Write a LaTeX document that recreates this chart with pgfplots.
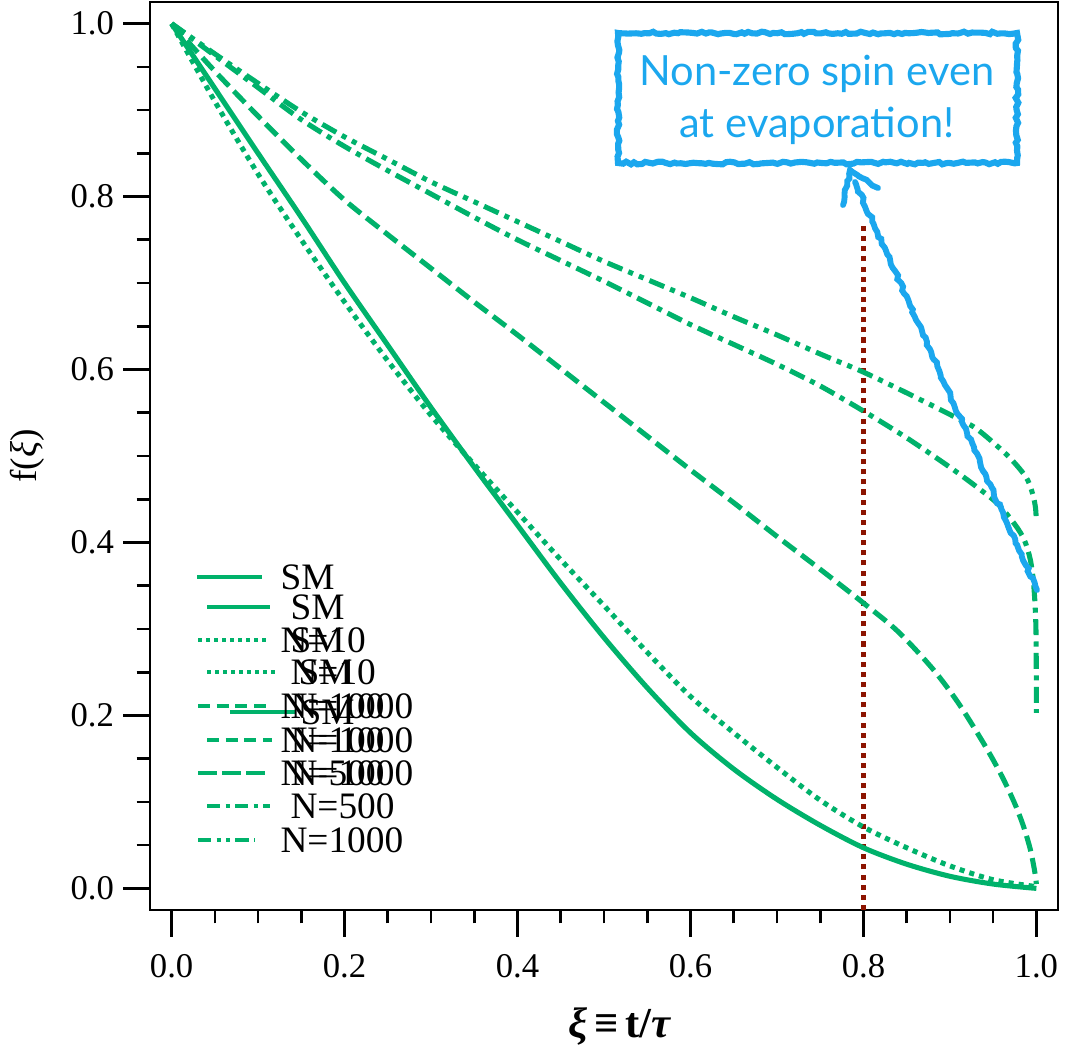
\documentclass[border=0pt]{standalone}
\usepackage{fontspec}
\setmainfont{Liberation Serif}
\newfontfamily\tickfont{Liberation Serif}
\newfontfamily\annfont{Lato}
\usepackage{pgfplots}
\usepackage{pgfplotstable}
\pgfplotsset{compat=1.18}
\usetikzlibrary{decorations.pathmorphing}
\definecolor{cgreen}{RGB}{0,178,107}
\definecolor{cred}{RGB}{140,20,0}
\definecolor{cblue}{RGB}{27,167,238}

\pgfplotstableread{
x y
0 1
0.05 0.925
0.1 0.85
0.15 0.776
0.2 0.700
0.25 0.628
0.3 0.556
0.35 0.487
0.4 0.420
0.45 0.353
0.5 0.290
0.55 0.232
0.6 0.180
0.65 0.138
0.7 0.103
0.75 0.073
0.8 0.047
0.85 0.028
0.9 0.014
0.95 0.005
1.0 0.0
}\tabSM

\pgfplotstableread{
x y
0 1
0.05 0.91
0.1 0.826
0.15 0.750
0.2 0.678
0.25 0.610
0.3 0.547
0.35 0.490
0.4 0.435
0.45 0.380
0.5 0.327
0.55 0.273
0.6 0.222
0.65 0.180
0.7 0.140
0.75 0.102
0.8 0.071
0.85 0.047
0.9 0.026
0.95 0.010
1.0 0.002
}\tabTen

\pgfplotstableread{
x y
0 1
0.05 0.945
0.1 0.893
0.15 0.843
0.2 0.796
0.25 0.756
0.3 0.717
0.35 0.678
0.4 0.640
0.45 0.601
0.5 0.562
0.55 0.523
0.6 0.484
0.65 0.446
0.7 0.407
0.75 0.369
0.8 0.330
0.84 0.297
0.88 0.254
0.91 0.214
0.94 0.166
0.96 0.130
0.975 0.098
0.985 0.072
0.993 0.045
0.998 0.020
1.0 0.005
}\tabHundred

\pgfplotstableread{
x y
0 1
0.05 0.963
0.1 0.926
0.15 0.889
0.2 0.858
0.25 0.830
0.3 0.803
0.35 0.776
0.4 0.750
0.45 0.726
0.5 0.702
0.55 0.677
0.6 0.652
0.65 0.629
0.7 0.606
0.75 0.581
0.8 0.552
0.85 0.521
0.9 0.487
0.93 0.465
0.955 0.445
0.975 0.421
0.986 0.403
0.993 0.380
0.997 0.350
0.9995 0.300
1.0 0.203
}\tabFiveHundred

\pgfplotstableread{
x y
0 1
0.05 0.965
0.1 0.931
0.15 0.898
0.2 0.869
0.25 0.843
0.3 0.817
0.35 0.794
0.4 0.771
0.45 0.748
0.5 0.725
0.55 0.704
0.6 0.683
0.65 0.661
0.7 0.640
0.75 0.618
0.8 0.597
0.85 0.573
0.9 0.548
0.93 0.532
0.963 0.504
0.98 0.486
0.99 0.472
0.996 0.455
0.999 0.440
1.0 0.424
}\tabThousand

\begin{document}
\begin{tikzpicture}
\useasboundingbox (0,0) rectangle (400.125pt,395.625pt);
\begin{axis}[
  at={(56.25pt,54.375pt)}, anchor=south west,
  scale only axis, width=340.5pt, height=340.5pt,
  xmin=-0.025, xmax=1.025, ymin=-0.025, ymax=1.025,
  axis line style={line width=1pt},
  tick align=outside, xtick pos=bottom, ytick pos=left,
  xtick={0,0.2,0.4,0.6,0.8,1.0}, ytick={0,0.2,0.4,0.6,0.8,1.0},
  xticklabels={0.0,0.2,0.4,0.6,0.8,1.0},
  yticklabels={0.0,0.2,0.4,0.6,0.8,1.0},
  minor tick num=3,
  major tick length=10pt, minor tick length=5pt,
  every tick/.style={black, line width=1pt},
  ticklabel style={font=\tickfont\fontsize{13}{13}\selectfont},
  xticklabel style={yshift=-3pt},
  xlabel={\textit{ξ}\,\textbf{≡}\,t/\textit{τ}},
  ylabel={f(\textit{ξ})},
  xlabel style={font=\fontsize{16}{16}\selectfont\bfseries, at={(axis description cs:0.5176,-0.128)}, anchor=center},
  ylabel style={font=\fontsize{14}{14}\selectfont, at={(axis description cs:-0.1355,0.5)}, anchor=center},
  line cap=butt,
]
\addplot[cred, line width=1.9pt, dash pattern=on 1.9pt off 1.9pt] coordinates {(0.8,-0.025) (0.8,0.769)};
\addplot[cgreen, line width=1.9pt, smooth] table {\tabSM};
\addplot[cgreen, line width=1.9pt, smooth, dash pattern=on 1.9pt off 1.9pt] table {\tabTen};
\addplot[cgreen, line width=1.9pt, smooth, dash pattern=on 6pt off 2.6pt] table {\tabHundred};
\addplot[cgreen, line width=1.9pt, smooth, dash pattern=on 6pt off 2.4pt on 1.9pt off 2.4pt] table {\tabFiveHundred};
\addplot[cgreen, line width=1.9pt, smooth, dash pattern=on 6pt off 2.4pt on 1.9pt off 2.4pt on 1.9pt off 2.4pt] table {\tabThousand};
\end{axis}

\begin{scope}[x=0.375pt, y=-0.375pt, yshift=395.625pt]
  % legend (overlapping entries as in the reference)
  \tikzset{lg/.style={cgreen, line width=1.5pt, line cap=butt},
           lt/.style={anchor=west, inner sep=0pt, font=\fontsize{14}{14}\selectfont}}
  \draw[lg] (197,577) -- (262,577);
  \draw[lg] (207,607) -- (270,607);
  \draw[lg, dash pattern=on 1.5pt off 1.5pt] (198,640) -- (270,640);
  \draw[lg, dash pattern=on 1.5pt off 1.5pt] (207,672) -- (278,672);
  \draw[lg, dash pattern=on 4.5pt off 2.5pt] (198,706) -- (270,706);
  \draw[lg] (230,712) -- (295,712);
  \draw[lg, dash pattern=on 4.5pt off 2.5pt] (207,740) -- (272,740);
  \draw[lg, dash pattern=on 7pt off 2pt] (198,773) -- (268,773);
  \draw[lg, dash pattern=on 5pt off 2pt on 1.5pt off 2pt] (207,806) -- (270,806);
  \draw[lg, dash pattern=on 5pt off 2pt on 1.5pt off 2pt on 1.5pt off 2pt] (198,840) -- (255,840);
  \node[lt] at (280,577) {SM};
  \node[lt] at (290,607) {SM};
  \node[lt] at (280,640) {N=10};
  \node[lt] at (290,640) {SM};
  \node[lt] at (290,672) {N=10};
  \node[lt] at (298,672) {SM};
  \node[lt] at (280,706) {N=100};
  \node[lt] at (290,706) {N=1000};
  \node[lt] at (300,712) {SM};
  \node[lt] at (280,740) {N=100};
  \node[lt] at (290,740) {N=1000};
  \node[lt] at (280,773) {N=500};
  \node[lt] at (290,773) {N=1000};
  \node[lt] at (290,806) {N=500};
  \node[lt] at (280,840) {N=1000};

  % annotation
  \pgfmathsetseed{7}
  \draw[cblue, line width=2.3pt, decorate, decoration={random steps, segment length=1.5pt, amplitude=0.5pt}]
     (618,33) rectangle (1017,163);
  \node[cblue, font=\annfont\fontsize{15.6}{19.5}\selectfont, align=center] at (817,100)
     {Non-zero spin even\\at evaporation!};
  \draw[cblue, line width=2.2pt, line cap=round, decorate, decoration={random steps, segment length=1.5pt, amplitude=0.5pt}]
     (1037,590) -- (855,182);
  \draw[cblue, line width=2.2pt, line cap=round, decorate, decoration={random steps, segment length=1.5pt, amplitude=0.5pt}]
     (843,205) -- (850,170) -- (878,188);
\end{scope}
\end{tikzpicture}
\end{document}
